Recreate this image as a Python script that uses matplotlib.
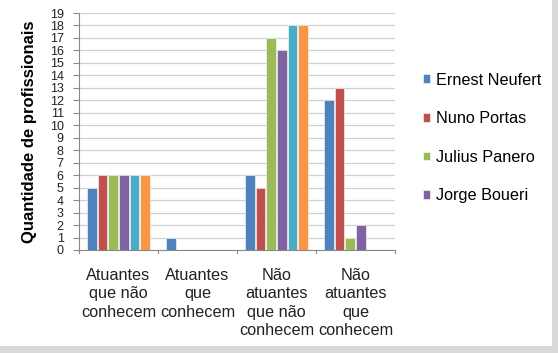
import matplotlib
matplotlib.use("Agg")
import matplotlib.pyplot as plt
import numpy as np
from matplotlib.patches import Rectangle

categories = ["Atuantes\nque não\nconhecem", "Atuantes\nque\nconhecem",
              "Não\natuantes\nque não\nconhecem", "Não\natuantes\nque\nconhecem"]
series_names = ["Ernest Neufert", "Nuno Portas", "Julius Panero", "Jorge Boueri",
                "Série 5", "Série 6"]
ernest = [5, 1, 6, 12]
nuno = [6, 0, 5, 13]
julius = [6, 0, 17, 1]
jorge = [6, 0, 16, 2]
serie5 = [6, 0, 18, 0]
serie6 = [6, 0, 18, 0]
yticks = list(range(0, 20))

colors = ["#4F81BD", "#C0504D", "#9BBB59", "#8064A2", "#4BACC6", "#F79646"]
data = [ernest, nuno, julius, jorge, serie5, serie6]

plt.rcParams['font.family'] = ['Liberation Sans', 'DejaVu Sans']
fig = plt.figure(figsize=(5.58, 3.53), dpi=100)
# shadow frame
fig.patches.append(Rectangle((0, 0), 1, 1, transform=fig.transFigure,
                             facecolor="#d9d9d9", edgecolor="none", zorder=-3))
fig.patches.append(Rectangle((0, 7/353), 1 - 6/558, 1 - 7/353, transform=fig.transFigure,
                             facecolor="white", edgecolor="none", zorder=-2))

ax = fig.add_axes([79/558, 1 - 250/353, (395-79)/558, (250-13)/353])
ax.set_facecolor("none")
n = len(data)
x = np.arange(len(categories))
group_w = 0.80
bw = group_w / n
for i, (vals, c, name) in enumerate(zip(data, colors, series_names)):
    ax.bar(x - group_w/2 + bw*(i+0.5), vals, width=bw*0.9, color=c,
           edgecolor="white", linewidth=0.4, label=name, zorder=3)

ax.set_xlim(-0.5, len(categories) - 0.5)
ax.set_ylim(0, 19)
ax.set_yticks(yticks)
ax.set_yticklabels([str(t) for t in yticks], fontsize=9, color="#222222")
ax.yaxis.grid(True, color="#d0d0d0", linewidth=0.9, zorder=0)
ax.set_axisbelow(True)
for s in ["top", "right"]:
    ax.spines[s].set_visible(False)
ax.spines["left"].set_color("#888888")
ax.spines["bottom"].set_color("#888888")
ax.tick_params(axis="y", length=4, color="#888888", pad=7)
ax.set_xticks(x)
ax.set_xticklabels(categories, fontsize=11.7, linespacing=1.28, color="#222222")
ax.tick_params(axis="x", length=0, pad=13)
for b in np.arange(-0.5, len(categories)):
    ax.plot([b, b], [0, -0.25], color="#888888", linewidth=0.8, clip_on=False,
            transform=ax.transData)

ax.set_ylabel("Quantidade de profissionais", fontsize=12, fontweight="bold")
ax.yaxis.set_label_coords(-42/316, 0.5)

handles, labels = ax.get_legend_handles_labels()
leg = fig.legend(handles[:4], labels[:4], loc="upper left",
                 bbox_to_anchor=(408/558, 1 - 58/353), frameon=False,
                 fontsize=11.7, handlelength=0.45, handleheight=0.45,
                 handletextpad=0.35, labelspacing=1.45)

fig.savefig("out.png", dpi=100)
